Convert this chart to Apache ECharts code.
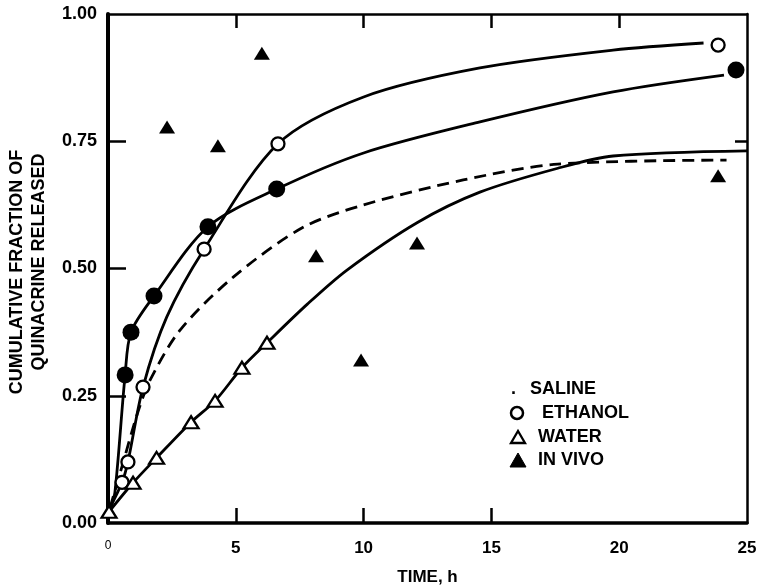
<!DOCTYPE html>
<html>
<head>
<meta charset="utf-8">
<script src="https://cdn.jsdelivr.net/npm/echarts@6/dist/echarts.min.js"></script>
<style>
  html, body { margin: 0; padding: 0; background: #fff; }
  #chart { width: 757px; height: 588px; }
</style>
</head>
<body>
<div id="chart"></div>
<script>
// Cumulative fraction of quinacrine released vs time (h)

// Measured points
const timeSaline = [0.67, 0.9, 1.8, 3.91, 6.6, 24.57];
const saline     = [0.291, 0.375, 0.446, 0.582, 0.656, 0.89];

const timeEthanol = [0.55, 0.78, 1.37, 3.76, 6.65, 23.87];
const ethanol     = [0.08, 0.12, 0.267, 0.538, 0.745, 0.939];

const timeWater = [0.04, 0.98, 1.9, 3.25, 4.19, 5.24, 6.22];
const water     = [0.022, 0.079, 0.128, 0.198, 0.24, 0.305, 0.354];

const timeInVivo = [2.31, 4.3, 6.02, 8.14, 9.9, 12.09, 23.87];
const inVivo     = [0.778, 0.741, 0.923, 0.525, 0.32, 0.55, 0.682];

// Fitted release curves
const salineCurveT = [0.08, 0.27, 0.67, 0.9, 1.8, 3.91, 6.6, 10, 14.55, 19.76, 24.1];
const salineCurveY = [0.026, 0.06, 0.291, 0.375, 0.446, 0.582, 0.656, 0.727, 0.788, 0.847, 0.88];

const ethanolCurveT = [0.08, 0.55, 0.78, 1.37, 2.3, 3.76, 6.65, 10, 14.55, 19.76, 23.3];
const ethanolCurveY = [0.03, 0.08, 0.12, 0.267, 0.405, 0.538, 0.745, 0.837, 0.894, 0.929, 0.943];

const waterCurveT = [0.04, 0.98, 1.9, 3.25, 4.19, 5.24, 6.22, 7.8, 9.35, 12.09, 14.55, 17.6, 19.76, 25];
const waterCurveY = [0.022, 0.079, 0.128, 0.198, 0.24, 0.305, 0.354, 0.43, 0.497, 0.59, 0.65, 0.697, 0.721, 0.731];

const dashedCurveT = [0.08, 0.6, 1.15, 1.64, 2.82, 4.9, 7.6, 10, 13.9, 17.6, 24.2];
const dashedCurveY = [0.03, 0.12, 0.215, 0.28, 0.379, 0.483, 0.58, 0.625, 0.674, 0.705, 0.713];

// Axis ticks and labels
const xLabelValues = [0, 5, 10, 15, 20, 25];
const xBottomTicks = [5, 10, 15];
const xTopTicks = [5, 10, 15, 20];
const yLabelValues = [0, 0.25, 0.5, 0.75, 1.0];
const yLeftTicks = [0.25, 0.5, 0.75];
const yRightTicks = [0.75];

const yTitle1 = 'CUMULATIVE FRACTION OF';
const yTitle2 = 'QUINACRINE RELEASED';
const xTitle = 'TIME, h';

const FONT = '"Liberation Sans", Arial, Helvetica, sans-serif';

const pairs = (xs, ys) => xs.map((x, i) => [x, ys[i]]);

const chart = echarts.init(document.getElementById('chart'), null, { renderer: 'canvas' });

const curveStyle = { color: '#000', width: 2.8 };
const SMOOTH = 0.3;

const option = {
  backgroundColor: '#fff',
  animation: false,
  grid: { left: 108, right: 10, top: 14, bottom: 65, outerBoundsMode: 'none', containLabel: false },
  xAxis: [
    {
      type: 'value', position: 'bottom', min: 0, max: 25, interval: 5,
      name: xTitle, nameLocation: 'middle', nameGap: 46,
      nameTextStyle: { fontFamily: FONT, fontWeight: 'bold', fontSize: 17, color: '#000' },
      axisLine: { show: true, onZero: false, lineStyle: { color: '#000', width: 3.5 } },
      axisTick: { show: true, inside: true, length: 15, customValues: xBottomTicks, lineStyle: { color: '#000', width: 2.5 } },
      axisLabel: {
        customValues: xLabelValues, margin: 17,
        fontFamily: FONT, fontWeight: 'bold', fontSize: 17, color: '#000',
        formatter: v => (v === 0 ? '{z|0}' : String(v)),
        rich: { z: { fontFamily: FONT, fontSize: 12, fontWeight: 'normal', color: '#000' } }
      },
      splitLine: { show: false }
    },
    {
      type: 'value', position: 'top', min: 0, max: 25, interval: 5,
      axisLine: { show: true, onZero: false, lineStyle: { color: '#000', width: 2.5 } },
      axisTick: { show: true, inside: true, length: 14, customValues: xTopTicks, lineStyle: { color: '#000', width: 2.5 } },
      axisLabel: { show: false },
      splitLine: { show: false }
    }
  ],
  yAxis: [
    {
      type: 'value', position: 'left', min: 0, max: 1, interval: 0.25,
      axisLine: { show: true, onZero: false, lineStyle: { color: '#000', width: 4 } },
      axisTick: { show: true, inside: true, length: 18, customValues: yLeftTicks, lineStyle: { color: '#000', width: 2.5 } },
      axisLabel: {
        customValues: yLabelValues, margin: 11,
        fontFamily: FONT, fontWeight: 'bold', fontSize: 18, color: '#000',
        formatter: v => v.toFixed(2)
      },
      splitLine: { show: false }
    },
    {
      type: 'value', position: 'right', min: 0, max: 1, interval: 0.25,
      axisLine: { show: true, onZero: false, lineStyle: { color: '#000', width: 2.5 } },
      axisTick: { show: true, inside: true, length: 12, customValues: yRightTicks, lineStyle: { color: '#000', width: 2.5 } },
      axisLabel: { show: false },
      splitLine: { show: false }
    }
  ],
  graphic: [
    { type: 'text', x: 17, y: 272, rotation: Math.PI / 2,
      style: { text: yTitle1, fill: '#000', font: 'bold 18px ' + FONT, textAlign: 'center', textVerticalAlign: 'middle' } },
    { type: 'text', x: 39, y: 262, rotation: Math.PI / 2,
      style: { text: yTitle2, fill: '#000', font: 'bold 18px ' + FONT, textAlign: 'center', textVerticalAlign: 'middle' } },
    // key
    { type: 'text', x: 511, y: 389, style: { text: '.', fill: '#000', font: 'bold 18px ' + FONT, textAlign: 'left', textVerticalAlign: 'middle' } },
    { type: 'text', x: 530, y: 389, style: { text: 'SALINE', fill: '#000', font: 'bold 18px ' + FONT, textAlign: 'left', textVerticalAlign: 'middle' } },
    { type: 'circle', shape: { cx: 517, cy: 413, r: 6 }, style: { fill: '#fff', stroke: '#000', lineWidth: 2.5 } },
    { type: 'text', x: 542, y: 413, style: { text: 'ETHANOL', fill: '#000', font: 'bold 18px ' + FONT, textAlign: 'left', textVerticalAlign: 'middle' } },
    { type: 'polygon', shape: { points: [[511, 443], [525, 443], [518, 431]] }, style: { fill: '#fff', stroke: '#000', lineWidth: 2.3 } },
    { type: 'text', x: 538, y: 437, style: { text: 'WATER', fill: '#000', font: 'bold 18px ' + FONT, textAlign: 'left', textVerticalAlign: 'middle' } },
    { type: 'polygon', shape: { points: [[510, 467], [526, 467], [518, 453]] }, style: { fill: '#000', stroke: '#000', lineWidth: 1 } },
    { type: 'text', x: 538, y: 460, style: { text: 'IN VIVO', fill: '#000', font: 'bold 18px ' + FONT, textAlign: 'left', textVerticalAlign: 'middle' } }
  ],
  series: [
    { name: 'Saline fit', type: 'line', data: pairs(salineCurveT, salineCurveY), showSymbol: false,
      smooth: SMOOTH, lineStyle: curveStyle, z: 2, silent: true },
    { name: 'Ethanol fit', type: 'line', data: pairs(ethanolCurveT, ethanolCurveY), showSymbol: false,
      smooth: SMOOTH, lineStyle: curveStyle, z: 2, silent: true },
    { name: 'Water fit', type: 'line', data: pairs(waterCurveT, waterCurveY), showSymbol: false,
      smooth: SMOOTH, lineStyle: curveStyle, z: 2, silent: true },
    { name: 'Dashed fit', type: 'line', data: pairs(dashedCurveT, dashedCurveY), showSymbol: false,
      smooth: SMOOTH, lineStyle: { color: '#000', width: 2.8, type: [12, 7] }, z: 2, silent: true },

    { name: 'SALINE', type: 'scatter', data: pairs(timeSaline, saline), symbol: 'circle', symbolSize: 17,
      itemStyle: { color: '#000', opacity: 1 }, z: 5 },
    { name: 'ETHANOL', type: 'scatter', data: pairs(timeEthanol, ethanol), symbol: 'circle', symbolSize: 13,
      itemStyle: { color: '#fff', borderColor: '#000', borderWidth: 2.3, opacity: 1 }, z: 5 },
    { name: 'WATER', type: 'scatter', data: pairs(timeWater, water), symbol: 'triangle', symbolSize: [15, 12],
      itemStyle: { color: '#fff', borderColor: '#000', borderWidth: 2.2, opacity: 1 }, z: 5 },
    { name: 'IN VIVO', type: 'scatter', data: pairs(timeInVivo, inVivo), symbol: 'triangle', symbolSize: [16, 13],
      itemStyle: { color: '#000', opacity: 1 }, z: 5 }
  ]
};

chart.setOption(option);
</script>
</body>
</html>
